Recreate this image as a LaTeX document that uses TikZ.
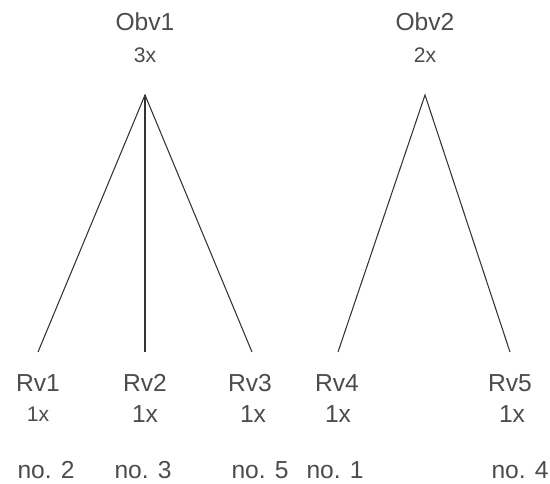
\documentclass[tikz,border=0pt]{standalone}
\usepackage{fontspec}
\setmainfont{Liberation Sans}
\usetikzlibrary{positioning}

\begin{document}
\begin{tikzpicture}[x=0.02cm,y=-0.02cm,
  label/.style={text=black!70,inner sep=0pt,font=\fontsize{14}{16}\selectfont},
  small/.style={text=black!70,inner sep=0pt,font=\fontsize{12}{14}\selectfont},
  branch/.style={draw=black!80,line width=0.6pt}]
\useasboundingbox (0,0) rectangle (550,483);

\node[label] (O1) at (145,22) {Obv1};
\node[small] (O1n) at (145,55) {3x};
\node[label] (O2) at (425,22) {Obv2};
\node[small] (O2n) at (425,55) {2x};

\coordinate (A) at (145,95);
\coordinate (B) at (425,95);
\coordinate (R1) at (38,352);
\coordinate (R2) at (145,352);
\coordinate (R3) at (252,352);
\coordinate (R4) at (338,352);
\coordinate (R5) at (510,352);

\node[label] (V1) at (38,383) {Rv1};
\node[label] (V2) at (145,383) {Rv2};
\node[label] (V3) at (250,383) {Rv3};
\node[label] (V4) at (337,383) {Rv4};
\node[label] (V5) at (510,383) {Rv5};

\node[small] (N1) at (38,414) {1x};
\node[label] (N2) at (145,414) {1x};
\node[label] (N3) at (253,414) {1x};
\node[label] (N4) at (338,414) {1x};
\node[label] (N5) at (512,414) {1x};

\node[label] (P1) at (46,470) {no. 2};
\node[label] (P2) at (143,470) {no. 3};
\node[label] (P3) at (260,470) {no. 5};
\node[label] (P4) at (335,470) {no. 1};
\node[label] (P5) at (520,470) {no. 4};

\draw[branch] (R1)--(A)--(R3);
\draw[branch] (A)--(R2);
\draw[branch] (R4)--(B)--(R5);

\end{tikzpicture}
\end{document}
